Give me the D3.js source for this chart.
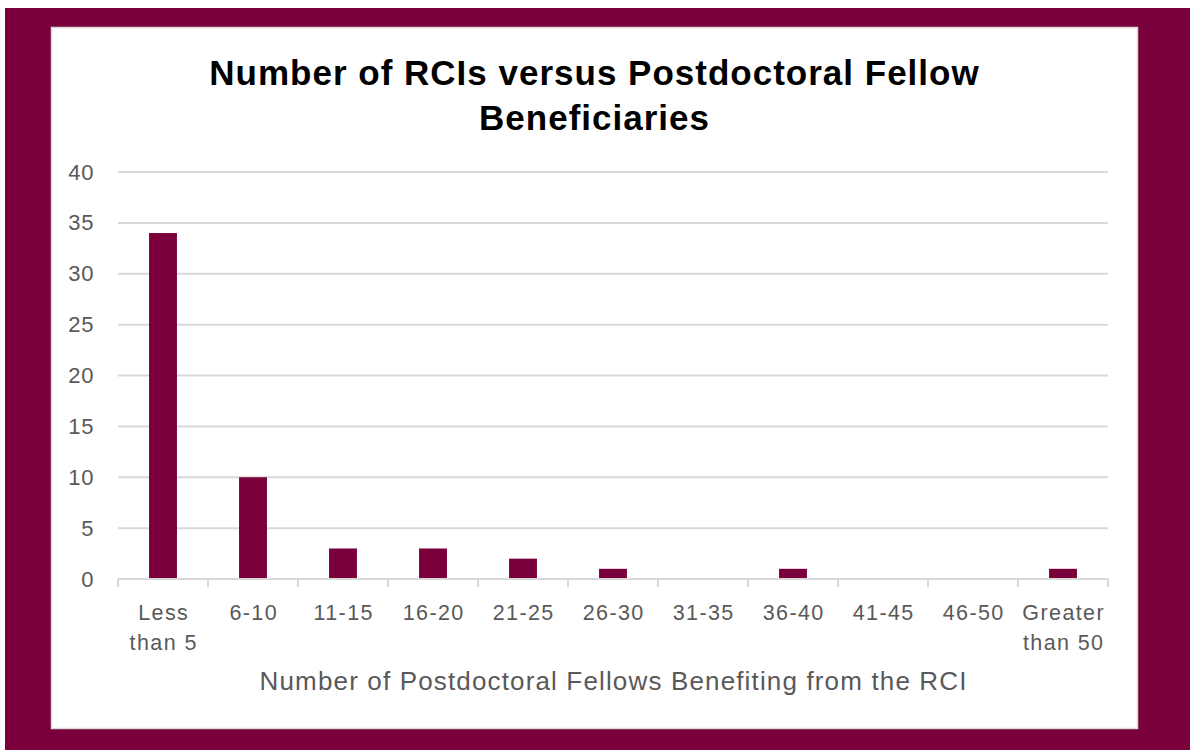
<!DOCTYPE html>
<html><head><meta charset="utf-8">
<script src="https://cdn.jsdelivr.net/npm/d3@7"></script>
<style>body{margin:0;background:#fff}svg{display:block}text{font-family:"Liberation Sans",Arial,sans-serif}</style>
</head><body><svg id="c" width="1190" height="750"></svg>
<script>
const categories = ["Less than 5","6-10","11-15","16-20","21-25","26-30","31-35","36-40","41-45","46-50","Greater than 50"];
const values = [34,10,3,3,2,1,0,1,0,0,1];
const yTicks = [0,5,10,15,20,25,30,35,40];
const titleLines = ["Number of RCIs versus Postdoctoral Fellow","Beneficiaries"];
const xTitle = "Number of Postdoctoral Fellows Benefiting from the RCI";

const maroon = "#7a003c";
const svg = d3.select("#c");
svg.append("rect").attr("x",5).attr("y",8).attr("width",1185).attr("height",742).attr("fill",maroon);
svg.append("rect").attr("x",51.5).attr("y",27.5).attr("width",1086).attr("height",701).attr("fill","#fff").attr("stroke","#d9d9d9").attr("stroke-width",1.5);

const m = {l:118, r:1108, t:172, b:579};
const x = d3.scaleBand().domain(categories).range([m.l,m.r]).paddingInner(0.69).paddingOuter(0.345);
const xb = d3.scaleBand().domain(categories).range([m.l,m.r]);
const y = d3.scaleLinear().domain([0,40]).range([m.b,m.t]);

// gridlines
svg.append("g").selectAll("line").data(yTicks.filter(d=>d>0)).join("line")
  .attr("x1",m.l).attr("x2",m.r).attr("y1",d=>y(d)).attr("y2",d=>y(d))
  .attr("stroke","#d9d9d9").attr("stroke-width",2);

// y axis labels
const ya = svg.append("g").attr("transform",`translate(${m.l},0)`)
  .call(d3.axisLeft(y).tickValues(yTicks).tickSize(0).tickPadding(24));
ya.select(".domain").remove();
ya.selectAll("text").attr("font-size",22).attr("fill","#595959").attr("font-family","Liberation Sans, Arial, sans-serif").attr("letter-spacing",0.6);

// bars
svg.append("g").selectAll("rect").data(values).join("rect")
  .attr("x",(d,i)=>x(categories[i])).attr("width",x.bandwidth())
  .attr("y",d=>y(d)).attr("height",d=>y(0)-y(d)).attr("fill",maroon);

// x axis baseline + ticks at boundaries
const g = svg.append("g");
g.append("line").attr("x1",m.l).attr("x2",m.r).attr("y1",y(0)).attr("y2",y(0)).attr("stroke","#d9d9d9").attr("stroke-width",2);
const bounds = categories.map(c=>xb(c)).concat([m.r]);
g.selectAll("line.t").data(bounds).join("line").attr("class","t")
  .attr("x1",d=>d).attr("x2",d=>d).attr("y1",y(0)).attr("y2",y(0)+8).attr("stroke","#d9d9d9").attr("stroke-width",2);

// x labels (wrapped)
const ls = 1.4;
categories.forEach(c=>{
  const words = c.split(" ");
  let lines = [c];
  if (words.length>2) lines = [words[0], words.slice(1).join(" ")];
  const cx = xb(c)+xb.bandwidth()/2 + ls/2;
  const t = svg.append("text").attr("y",620)
    .attr("text-anchor","middle").attr("font-size",21.5).attr("letter-spacing",ls).attr("fill","#595959");
  lines.forEach((l,i)=>t.append("tspan").attr("x",cx).attr("dy",i?30:0).text(l));
});

// axis title
svg.append("text").attr("x",(m.l+m.r)/2+0.6).attr("y",690).attr("text-anchor","middle")
  .attr("font-size",26).attr("letter-spacing",1.15).attr("fill","#595959").text(xTitle);

// title
const tt = svg.append("text").attr("text-anchor","middle").attr("font-size",35).attr("font-weight","bold").attr("letter-spacing",1).attr("fill","#000");
titleLines.forEach((l,i)=>tt.append("tspan").attr("x",594.5).attr("y",85+i*45).text(l));
</script></body></html>
